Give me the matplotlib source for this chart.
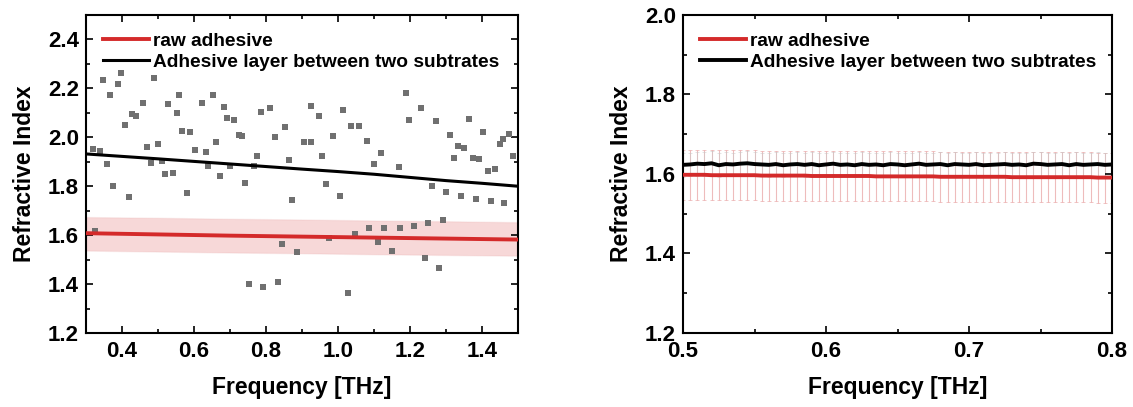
import numpy as np
import matplotlib
matplotlib.use("Agg")
import matplotlib.pyplot as plt
from matplotlib.ticker import MultipleLocator

plt.rcParams["font.family"] = ["Liberation Sans", "DejaVu Sans"]
plt.rcParams["font.weight"] = "bold"

# ---- left panel data (0.3 - 1.5 THz) ----
scatter_f = [0.320, 0.339, 0.325, 0.346, 0.358, 0.367, 0.376, 0.390, 0.397, 0.409,
             0.420, 0.427, 0.439, 0.457, 0.469, 0.480, 0.489, 0.500, 0.511, 0.520,
             0.529, 0.543, 0.552, 0.559, 0.567, 0.580, 0.590, 0.604, 0.622, 0.632,
             0.640, 0.652, 0.662, 0.673, 0.682, 0.692, 0.701, 0.710, 0.724, 0.734,
             0.742, 0.752, 0.766, 0.774, 0.785, 0.792, 0.812, 0.824, 0.833, 0.845,
             0.854, 0.865, 0.873, 0.885, 0.905, 0.924, 0.926, 0.947, 0.955, 0.968,
             0.975, 0.987, 1.006, 1.015, 1.028, 1.035, 1.047, 1.057, 1.080, 1.086,
             1.099, 1.110, 1.119, 1.128, 1.149, 1.170, 1.172, 1.189, 1.198, 1.210,
             1.230, 1.242, 1.249, 1.260, 1.272, 1.281, 1.291, 1.300, 1.312, 1.323,
             1.333, 1.342, 1.351, 1.363, 1.374, 1.384, 1.393, 1.402, 1.416, 1.425,
             1.435, 1.449, 1.458, 1.462, 1.476, 1.486]
scatter_n = [1.952, 1.945, 1.616, 2.236, 1.890, 2.175, 1.799, 2.216, 2.263, 2.050,
             1.755, 2.096, 2.089, 2.141, 1.962, 1.897, 2.243, 1.973, 1.904, 1.849,
             2.136, 1.856, 2.099, 2.171, 2.027, 1.774, 2.021, 1.949, 2.141, 1.941,
             1.884, 2.174, 1.980, 1.840, 2.124, 2.080, 1.881, 2.071, 2.010, 2.004,
             1.815, 1.400, 1.884, 1.925, 2.105, 1.390, 2.119, 2.000, 1.408, 1.564,
             2.044, 1.907, 1.744, 1.530, 1.982, 1.982, 2.126, 2.089, 1.922, 1.808,
             1.588, 2.007, 1.760, 2.112, 1.363, 2.048, 1.605, 2.048, 1.986, 1.628,
             1.890, 1.571, 1.934, 1.628, 1.537, 1.880, 1.628, 2.182, 2.071, 1.637,
             2.121, 1.507, 1.648, 1.801, 2.068, 1.466, 1.660, 1.778, 2.010, 1.915,
             1.966, 1.762, 1.955, 2.075, 1.915, 1.747, 1.911, 2.020, 1.863, 1.740,
             1.870, 1.973, 1.993, 1.733, 2.014, 1.925]

fit_f = [0.30, 0.50, 0.70, 0.90, 1.00, 1.10, 1.20, 1.30, 1.40, 1.50]
fit_n = [1.932, 1.912, 1.891, 1.870, 1.860, 1.849, 1.836, 1.823, 1.812, 1.800]

raw_f = [0.30, 0.50, 0.70, 0.90, 1.10, 1.30, 1.50]
raw_n = [1.608, 1.603, 1.598, 1.594, 1.590, 1.586, 1.582]
raw_lo = [1.537, 1.533, 1.529, 1.526, 1.522, 1.519, 1.516]
raw_hi = [1.674, 1.671, 1.667, 1.664, 1.660, 1.657, 1.653]

# ---- right panel data (0.5 - 0.8 THz) ----
f2 = [0.500, 0.505, 0.510, 0.515, 0.520, 0.525, 0.530, 0.535, 0.540, 0.545,
      0.550, 0.555, 0.560, 0.565, 0.570, 0.575, 0.580, 0.585, 0.590, 0.595,
      0.600, 0.605, 0.610, 0.615, 0.620, 0.625, 0.630, 0.635, 0.640, 0.645,
      0.650, 0.655, 0.660, 0.665, 0.670, 0.675, 0.680, 0.685, 0.690, 0.695,
      0.700, 0.705, 0.710, 0.715, 0.720, 0.725, 0.730, 0.735, 0.740, 0.745,
      0.750, 0.755, 0.760, 0.765, 0.770, 0.775, 0.780, 0.785, 0.790, 0.795, 0.800]
black2 = [1.623, 1.624, 1.626, 1.625, 1.627, 1.622, 1.625, 1.624, 1.626, 1.627,
          1.625, 1.624, 1.623, 1.625, 1.622, 1.624, 1.625, 1.623, 1.625, 1.622,
          1.624, 1.626, 1.623, 1.624, 1.622, 1.625, 1.623, 1.624, 1.622, 1.625,
          1.624, 1.622, 1.624, 1.626, 1.623, 1.624, 1.625, 1.622, 1.625, 1.624,
          1.623, 1.625, 1.622, 1.623, 1.624, 1.625, 1.623, 1.624, 1.622, 1.626,
          1.625, 1.623, 1.624, 1.625, 1.622, 1.625, 1.623, 1.624, 1.625, 1.623, 1.624]
red2 = [1.598, 1.598, 1.598, 1.598, 1.597, 1.597, 1.597, 1.597, 1.597, 1.597,
        1.597, 1.596, 1.596, 1.596, 1.596, 1.596, 1.596, 1.596, 1.595, 1.595,
        1.595, 1.595, 1.595, 1.595, 1.595, 1.595, 1.595, 1.594, 1.594, 1.594,
        1.594, 1.594, 1.594, 1.594, 1.594, 1.594, 1.593, 1.593, 1.593, 1.593,
        1.593, 1.593, 1.593, 1.593, 1.593, 1.593, 1.592, 1.592, 1.592, 1.592,
        1.592, 1.592, 1.592, 1.592, 1.592, 1.592, 1.592, 1.592, 1.591, 1.591, 1.591]
red2_err = 0.063
black2_err = 0.03

RED = "#d42a2a"

fig = plt.figure(figsize=(11.33, 4.07), dpi=100)
ax1 = fig.add_axes([86 / 1133, 1 - 333 / 407, (518 - 86) / 1133, (333 - 15) / 407])
ax2 = fig.add_axes([683 / 1133, 1 - 333 / 407, (1112 - 683) / 1133, (333 - 15) / 407])

# left
ax1.fill_between(raw_f, raw_lo, raw_hi, color=RED, alpha=0.18, lw=1.0, edgecolor="#e6a0a0")
ax1.plot(scatter_f, scatter_n, "s", color="#707070", ms=5, mew=0, zorder=2)
ax1.plot(raw_f, raw_n, color=RED, lw=2.8, label="raw adhesive", zorder=3)
ax1.plot(fit_f, fit_n, color="black", lw=2.2, label="Adhesive layer between two subtrates", zorder=3)
ax1.set_xlim(0.3, 1.5)
ax1.set_ylim(1.2, 2.5)
ax1.xaxis.set_major_locator(MultipleLocator(0.2))
ax1.xaxis.set_minor_locator(MultipleLocator(0.1))
ax1.yaxis.set_major_locator(MultipleLocator(0.2))
ax1.yaxis.set_minor_locator(MultipleLocator(0.1))
ax1.xaxis.set_major_formatter(plt.FormatStrFormatter("%.1f"))
ax1.yaxis.set_major_formatter(plt.FormatStrFormatter("%.1f"))

# right
ax2.errorbar(f2, red2, yerr=red2_err, fmt="none", ecolor="#e8a0a0", elinewidth=0.8,
             capsize=1.5, capthick=0.6, alpha=0.7, zorder=1)
ax2.errorbar(f2, black2, yerr=black2_err, fmt="none", ecolor="#c8c8c8", elinewidth=0.6,
             capsize=1.5, capthick=0.6, alpha=0.6, zorder=1)
ax2.plot(f2, red2, color=RED, lw=2.8, label="raw adhesive", zorder=3)
ax2.plot(f2, black2, color="black", lw=2.8, label="Adhesive layer between two subtrates", zorder=3)
ax2.set_xlim(0.5, 0.8)
ax2.set_ylim(1.2, 2.0)
ax2.xaxis.set_major_locator(MultipleLocator(0.1))
ax2.xaxis.set_minor_locator(MultipleLocator(0.05))
ax2.yaxis.set_major_locator(MultipleLocator(0.2))
ax2.yaxis.set_minor_locator(MultipleLocator(0.1))
ax2.xaxis.set_major_formatter(plt.FormatStrFormatter("%.1f"))
ax2.yaxis.set_major_formatter(plt.FormatStrFormatter("%.1f"))

for ax in (ax1, ax2):
    for s in ax.spines.values():
        s.set_linewidth(1.5)
    ax.tick_params(which="both", direction="in", top=True, right=True, labelsize=16, width=1.2)
    ax.tick_params(which="major", length=5)
    ax.tick_params(axis="x", which="major", pad=6)
    ax.tick_params(axis="y", which="major", pad=5)
    ax.tick_params(which="minor", length=3)
    for lab in ax.get_xticklabels() + ax.get_yticklabels():
        lab.set_fontweight("bold")
    ax.set_xlabel("Frequency [THz]", fontsize=16.5, fontweight="bold", labelpad=10)
    ax.set_ylabel("Refractive Index", fontsize=16.5, fontweight="bold", labelpad=9)
    ax.legend(loc="upper left", frameon=False, handlelength=2.4,
              handletextpad=0.2, labelspacing=0.2, borderaxespad=0.5,
              prop={"weight": "bold", "size": 13.8})

fig.savefig("out.png", dpi=100)
